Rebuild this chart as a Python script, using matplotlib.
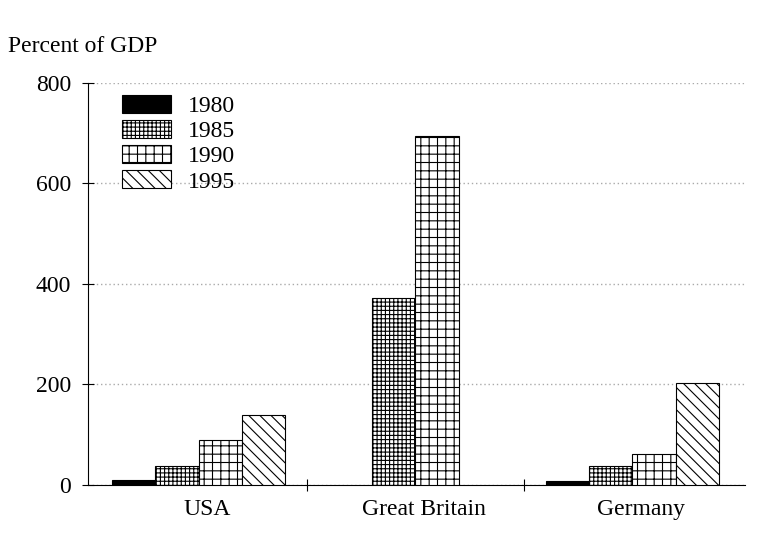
import matplotlib
matplotlib.use('Agg')
import matplotlib.pyplot as plt
import numpy as np

plt.rcParams['font.family'] = ['Liberation Serif', 'DejaVu Serif']
plt.rcParams['hatch.linewidth'] = 0.8

countries = ['USA', 'Great Britain', 'Germany']
years = ['1980', '1985', '1990', '1995']
# percent of GDP
v1980 = [10, 0, 8]
v1985 = [37, 372, 37]
v1990 = [90, 695, 62]
v1995 = [140, 0, 203]
series = [v1980, v1985, v1990, v1995]

styles = [
  dict(color='black', hatch=None),
  dict(color='white', hatch='++++'),
  dict(color='white', hatch='++'),
  dict(color='white', hatch='\\\\\\'),
]

fs = 17

fig = plt.figure(figsize=(7.65, 5.45), dpi=100)
ax = fig.add_axes([0.115, 0.110, 0.859, 0.738])

x = np.arange(len(countries))
w = 0.2
for i, (vals, st) in enumerate(zip(series, styles)):
  pos = x - 1.5 * w + i * w
  vals = np.array(vals, dtype=float)
  mask = vals > 0
  ax.bar(pos[mask], vals[mask], width=w, facecolor=st['color'], edgecolor='black',
         hatch=st['hatch'], linewidth=0.8, label=years[i], zorder=3)

ax.set_ylim(0, 800)
ax.set_xlim(-0.51, 2.52)
ax.set_yticks([0, 200, 400, 600, 800])
ax.tick_params(axis='y', direction='inout', length=8, labelsize=fs, width=0.8, pad=8)
ax.set_xticks([0.5, 1.5])
ax.set_xticklabels(['', ''])
ax.set_xticks(x + 0.04, minor=True)
ax.set_xticklabels(countries, minor=True, fontsize=fs)
ax.tick_params(axis='x', which='major', direction='inout', length=8, width=0.8)
ax.tick_params(axis='x', which='minor', length=0, pad=10)

ax.grid(axis='y', linestyle=(0, (1, 2)), color='#aaaaaa', linewidth=1.0, zorder=0)
for s in ['top', 'right']:
  ax.spines[s].set_visible(False)
ax.spines['left'].set_linewidth(0.8)
ax.spines['bottom'].set_linewidth(0.8)

fig.text(0.010, 0.914, 'Percent of GDP', fontsize=fs, ha='left', va='center')

ax.legend(loc='upper left', bbox_to_anchor=(0.037, 0.993), frameon=False, fontsize=fs,
          handlelength=2.1, handleheight=0.8, labelspacing=0.12, handletextpad=0.7,
          borderaxespad=0.0)

plt.savefig('out.png', dpi=100)
